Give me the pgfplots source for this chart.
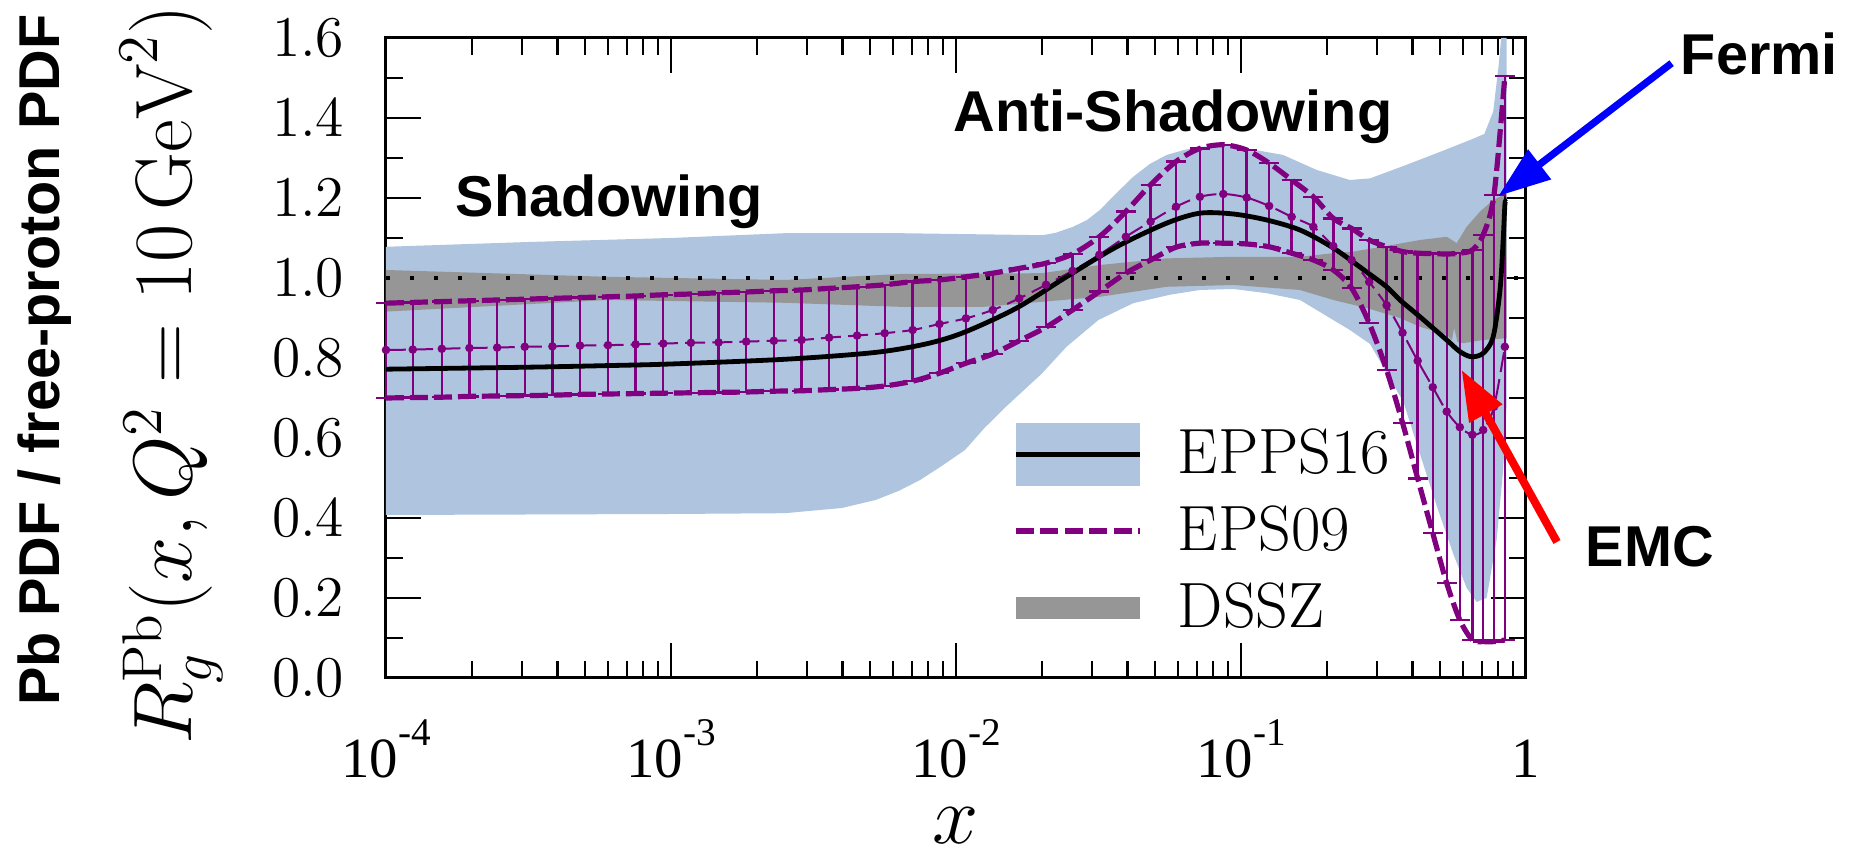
\documentclass[border=0pt]{standalone}
\usepackage{fontspec}
\usepackage{pgfplots}
\pgfplotsset{compat=1.18}
\usepackage{pgfplotstable}
\usetikzlibrary{arrows.meta}
\newfontfamily\annfont{Liberation Sans}
\newfontfamily\tnr{Liberation Serif}
\definecolor{bandblue}{RGB}{174,196,223}
\definecolor{bandgray}{RGB}{150,150,150}
\definecolor{epspurple}{RGB}{128,0,128}
\newcommand{\xl}[1]{{\tnr\fontsize{14.2}{14.2}\selectfont 10\raisebox{8.2pt}{\fontsize{9.8}{9.8}\selectfont #1}}}
\newcommand{\annf}{\annfont\bfseries\fontsize{14.4}{17}\selectfont}

% EPPS16 band polygon (upper left->right, lower right->left)
\pgfplotstableread{
x y
1e-4 1.078
3.162e-4 1.090
1e-3 1.100
2.512e-3 1.112
6.368e-3 1.112
2.018e-2 1.107
2.239e-2 1.113
2.576e-2 1.128
2.884e-2 1.145
3.199e-2 1.170
3.631e-2 1.210
4.188e-2 1.253
4.786e-2 1.285
5.483e-2 1.3075
6.310e-2 1.320
7.178e-2 1.328
9.397e-2 1.330
0.14060 1.3075
0.18450 1.270
0.24099 1.245
0.28379 1.249
0.37154 1.280
0.48641 1.312
0.63680 1.345
0.71450 1.360
0.76736 1.416
0.80168 1.530
0.81846 1.600
0.85507 1.600
0.85507 0.680
0.83176 0.520
0.78886 0.345
0.72778 0.200
0.67143 0.190
0.61944 0.225
0.55590 0.310
0.48641 0.430
0.42462 0.560
0.37154 0.690
0.28379 0.835
0.24099 0.870
0.16106 0.945
0.12303 0.962
9.397e-2 0.9725
7.178e-2 0.970
5.623e-2 0.958
4.188e-2 0.937
3.162e-2 0.895
2.443e-2 0.828
1.995e-2 0.760
1.507e-2 0.680
1.259e-2 0.625
1.076e-2 0.570
8.913e-3 0.530
7.482e-3 0.495
6.310e-3 0.468
5.224e-3 0.445
3.981e-3 0.425
2.512e-3 0.412
1e-3 0.410
1e-4 0.4075
}\eppsband

% DSSZ band polygon
\pgfplotstableread{
x y
1e-4 1.020
6.0e-4 1.003
2.512e-3 0.995
6.368e-3 1.010
2.0e-2 1.012
3.199e-2 1.0325
5.483e-2 1.049
9.397e-2 1.053
0.16106 1.053
0.21086 1.062
0.24774 1.066
0.32434 1.080
0.42462 1.095
0.52723 1.103
0.57148 1.087
0.61944 1.128
0.69024 1.166
0.76736 1.195
0.83176 1.207
0.85507 1.210
0.85507 0.850
0.84333 0.849
0.70795 0.845
0.60256 0.837
0.57544 0.840
0.55976 0.875
0.54954 0.845
0.52723 0.858
0.42462 0.878
0.36141 0.900
0.27606 0.925
0.21086 0.945
0.16106 0.970
9.397e-2 0.9825
5.483e-2 0.978
3.199e-2 0.953
1.259e-2 0.928
6.31e-3 0.928
2.512e-3 0.938
6.0e-4 0.945
1e-4 0.916
}\dsszband

% EPPS16 central
\pgfplotstableread{
x y
1e-4 0.772
3.162e-4 0.777
6.012e-4 0.781
1e-3 0.785
2.541e-3 0.797
5.224e-3 0.814
7.943e-3 0.836
1.076e-2 0.865
1.633e-2 0.925
2.443e-2 1.003
3.664e-2 1.078
5.483e-2 1.137
7.178e-2 1.162
9.397e-2 1.160
0.12303 1.145
0.16106 1.120
0.21086 1.075
0.27606 1.015
0.32434 0.978
0.36141 0.945
0.42462 0.903
0.52723 0.845
0.58614 0.816
0.64417 0.803
0.70795 0.812
0.76736 0.853
0.81096 0.970
0.83176 1.095
0.84333 1.1825
0.84918 1.190
}\eppsc

% EPS09: x lower central upper
\pgfplotstableread{
x l c u
1e-4 0.700 0.820 0.937
1.2417e-4 0.701 0.821 0.939
1.5704e-4 0.702 0.823 0.941
1.963e-4 0.704 0.825 0.943
2.455e-4 0.705 0.826 0.945
3.069e-4 0.706 0.828 0.947
3.837e-4 0.707 0.829 0.949
4.797e-4 0.709 0.831 0.951
6.012e-4 0.710 0.832 0.953
7.516e-4 0.711 0.834 0.955
9.397e-4 0.712 0.836 0.958
1.1749e-3 0.713 0.838 0.960
1.469e-3 0.714 0.839 0.963
1.837e-3 0.715 0.841 0.965
2.296e-3 0.717 0.843 0.968
2.871e-3 0.718 0.845 0.970
3.589e-3 0.721 0.851 0.974
4.498e-3 0.724 0.856 0.978
5.623e-3 0.730 0.862 0.983
7.047e-3 0.742 0.870 0.991
8.750e-3 0.762 0.885 0.995
1.0839e-2 0.787 0.899 1.003
1.346e-2 0.810 0.920 1.012
1.667e-2 0.843 0.949 1.024
2.070e-2 0.877 0.983 1.037
2.565e-2 0.920 1.018 1.060
3.184e-2 0.966 1.058 1.103
3.945e-2 1.012 1.103 1.166
4.820e-2 1.045 1.141 1.233
5.916e-2 1.077 1.178 1.291
7.178e-2 1.087 1.203 1.324
8.670e-2 1.087 1.210 1.333
0.10471 1.085 1.201 1.320
0.12560 1.078 1.180 1.287
0.15066 1.062 1.153 1.245
0.17947 1.045 1.128 1.203
0.21086 1.020 1.080 1.149
0.24434 0.975 1.045 1.124
0.28184 0.887 0.990 1.095
0.32434 0.770 0.932 1.078
0.36898 0.638 0.863 1.066
0.41687 0.499 0.793 1.062
0.47098 0.362 0.727 1.061
0.52723 0.237 0.666 1.060
0.58614 0.145 0.627 1.062
0.64863 0.095 0.608 1.070
0.70795 0.091 0.620 1.108
0.77268 0.091 0.678 1.208
0.84333 0.095 0.828 1.505
}\epsnine

\begin{document}
\begin{tikzpicture}
\useasboundingbox (-96.5pt,-44pt) rectangle (367pt,169.5pt);
\begin{axis}[
  scale only axis, width=285pt, height=160pt,
  xmode=log, xmin=1e-4, xmax=1, ymin=0, ymax=1.6,
  clip=false,
  axis line style={line width=0.75pt},
  every tick/.style={black, line width=0.55pt},
  major tick length=8.75pt, minor tick length=4.25pt,
  tick align=inside, tick pos=both,
  xtick={1e-4,1e-3,1e-2,1e-1,1},
  xticklabels={\xl{-4},\xl{-3},\xl{-2},\xl{-1},{\tnr\fontsize{14.2}{14.2}\selectfont 1}},
  minor xtick={2e-4,3e-4,4e-4,5e-4,6e-4,7e-4,8e-4,9e-4,2e-3,3e-3,4e-3,5e-3,6e-3,7e-3,8e-3,9e-3,2e-2,3e-2,4e-2,5e-2,6e-2,7e-2,8e-2,9e-2,0.2,0.3,0.4,0.5,0.6,0.7,0.8,0.9},
  xticklabel style={anchor=base, inner sep=0pt, yshift=-25pt},
  ytick={0,0.2,...,1.6}, minor ytick={0.1,0.3,...,1.5},
  yticklabel style={font=\fontsize{14.7}{15}\selectfont, inner sep=0pt, xshift=-10.25pt,
    /pgf/number format/fixed, /pgf/number format/fixed zerofill, /pgf/number format/precision=1},
  xlabel={$x$},
  xlabel style={font=\fontsize{20}{24}\selectfont, at={(axis description cs:0.5,0)}, anchor=base, yshift=-41.5pt, inner sep=0pt},
  ylabel={$R_g^{\mathrm{Pb}}(x,Q^2=10\,\mathrm{GeV}^2)$},
  ylabel style={font=\fontsize{20}{24}\selectfont, at={(axis description cs:-0.188,0.4737)}, anchor=center, inner sep=0pt},
  legend style={at={(0.55,0.399)}, anchor=north west, draw=none, fill=none, inner sep=0pt, outer sep=0pt,
    row sep=3.45pt, column sep=8.75pt, font=\fontsize{16}{18}\selectfont,
    nodes={inner sep=0pt}},
  legend cell align=left,
]
\addplot[fill=bandblue, draw=none, forget plot] table {\eppsband} -- cycle;
\addplot[fill=bandgray, draw=none, forget plot] table {\dsszband} -- cycle;
\addplot[black, line width=0.8pt, dash pattern=on 1pt off 5pt, forget plot] coordinates {(1e-4,1) (1,1)};
\addplot[epspurple, line width=1.3pt, dash pattern=on 4.5pt off 1.5pt, smooth, tension=0.5, forget plot] table[x=x,y=u] {\epsnine};
\addplot[epspurple, line width=1.3pt, dash pattern=on 4.5pt off 1.5pt, smooth, tension=0.5, forget plot] table[x=x,y=l] {\epsnine};
\addplot[epspurple, line width=0.5pt, dash pattern=on 5pt off 1.8pt, mark=*, mark size=0.8pt, mark options={solid},
  smooth, tension=0.5, forget plot,
  error bars/.cd, y dir=both, y explicit,
  error bar style={solid, line width=0.6pt, epspurple},
  error mark options={solid, rotate=90, line width=0.6pt, mark size=2.5pt, epspurple}]
  table[x=x, y=c, y error plus expr=\thisrow{u}-\thisrow{c}, y error minus expr=\thisrow{c}-\thisrow{l}] {\epsnine};
\addplot[black, line width=1.2pt, smooth, tension=0.5, forget plot] table {\eppsc};

\addlegendimage{legend image code/.code={
  \fill[bandblue, draw=none] (0pt,-7.9pt) rectangle (31pt,7.9pt);
  \draw[black, line width=1.3pt] (0pt,0pt) -- (31pt,0pt);}}
\addlegendentry{EPPS16}
\addlegendimage{legend image code/.code={
  \path[draw=none, fill=none] (0pt,-7.9pt) rectangle (31pt,7.9pt);
  \draw[epspurple, line width=1.5pt, dash pattern=on 4.5pt off 1.6pt] (0pt,0pt) -- (31pt,0pt);}}
\addlegendentry{EPS09}
\addlegendimage{legend image code/.code={
  \path[draw=none, fill=none] (0pt,-7.9pt) rectangle (31pt,7.9pt);
  \fill[bandgray, draw=none] (0pt,-2.7pt) rectangle (31pt,2.7pt);}}
\addlegendentry{DSSZ}
\end{axis}

\node[anchor=base west, inner sep=0pt, font=\annf] at (17.25pt,115.3pt) {Shadowing};
\node[anchor=base west, inner sep=0pt, font=\annf] at (141.75pt,136.6pt) {Anti-Shadowing};
\node[anchor=base west, inner sep=0pt, font=\annf] at (323.5pt,150.75pt) {Fermi};
\node[anchor=base west, inner sep=0pt, font=\annf] at (299.75pt,27.75pt) {EMC};
\node[rotate=90, anchor=base, inner sep=0pt, font=\annf] at (-81.6pt,79.4pt) {Pb PDF / free-proton PDF};
\draw[blue, line width=1.8pt, -{Triangle[length=13pt,width=9pt]}] (321.4pt,153.7pt) -- (278.1pt,120.5pt);
\draw[red, line width=2pt, -{Triangle[length=12.5pt,width=9pt]}] (292.75pt,34pt) -- (268.9pt,77pt);
\end{tikzpicture}
\end{document}
